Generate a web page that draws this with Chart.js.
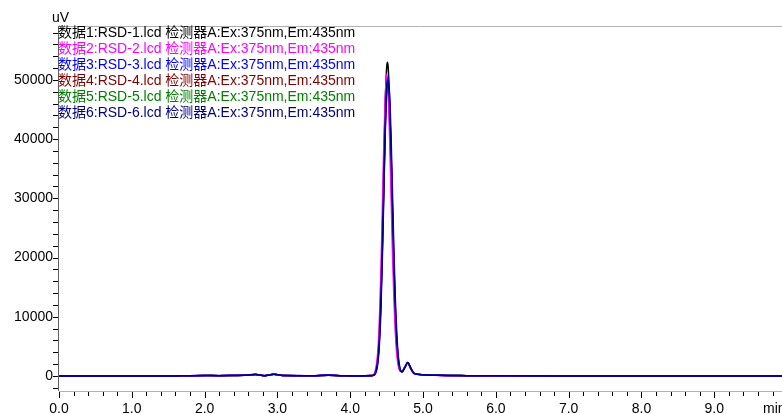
<!DOCTYPE html>
<html>
<head>
<meta charset="utf-8">
<script src="https://cdn.jsdelivr.net/npm/chart.js@4"></script>
<style>
html,body{margin:0;padding:0;background:#fff;}
#wrap{width:782px;height:414px;position:relative;}
</style>
</head>
<body>
<div id="wrap"><canvas id="c" width="782" height="414"></canvas></div>
<script>
// Retention times (min)
const times = [0, 0.5, 1.0, 1.5, 1.8, 2.0, 2.2, 2.4, 2.55, 2.7, 2.82, 2.95, 3.1, 3.3, 3.5, 3.7, 3.9, 4.1, 4.3, 4.34, 4.38, 4.40, 4.42, 4.44, 4.46, 4.48, 4.50, 4.51, 4.52, 4.54, 4.56, 4.58, 4.60, 4.62, 4.64, 4.66, 4.68, 4.71, 4.75, 4.79, 4.83, 4.87, 4.92, 5.0, 5.2, 5.6, 6.0, 7.0, 8.0, 9.0, 9.93];

// Signal (uV) for each run
const rsd1 = [0, 0, 0, 0, 50, 80, 60, 100, 120, 280, 60, 300, 80, 60, 50, 150, 30, 20, 80, 450, 3250, 7170, 13900, 23600, 35100, 45700, 52100, 53000, 52300, 46800, 37500, 26800, 17200, 9900, 5100, 2400, 1100, 700, 1500, 2300, 1300, 500, 300, 200, 120, 60, 30, 0, 0, 0, 0];
const rsd2 = [0, 0, 0, 0, 40, 70, 50, 90, 110, 250, 50, 270, 70, 50, 40, 130, 20, 10, 100, 700, 4300, 9300, 17000, 27400, 38500, 46800, 51000, 50200, 48500, 40700, 31000, 21000, 13000, 7200, 3600, 1700, 900, 750, 1600, 2200, 1200, 450, 280, 180, 100, 50, 20, 0, 0, 0, 0];
const rsd3 = [0, 0, 0, 0, 60, 90, 70, 110, 130, 270, 70, 290, 90, 70, 60, 160, 40, 20, 60, 250, 2200, 5200, 10700, 19300, 30000, 41000, 48200, 49800, 50300, 47500, 40800, 31000, 21000, 12800, 7000, 3400, 1500, 700, 1400, 2300, 1400, 550, 320, 210, 130, 60, 30, 0, 0, 0, 0];
const rsd4 = [0, 0, 0, 0, 50, 80, 60, 100, 120, 260, 60, 280, 80, 60, 50, 140, 30, 20, 75, 420, 3000, 6700, 13000, 22000, 32800, 42700, 48700, 49500, 48900, 43700, 35000, 25000, 16100, 9200, 4800, 2250, 1050, 700, 1450, 2250, 1300, 500, 300, 200, 120, 60, 30, 0, 0, 0, 0];
const rsd5 = [0, 0, 0, 0, 50, 80, 60, 100, 120, 260, 60, 280, 80, 60, 50, 140, 30, 20, 70, 380, 2700, 6100, 12000, 20600, 31000, 41000, 47600, 48700, 49000, 45400, 37800, 28000, 18600, 11000, 5900, 2800, 1250, 700, 1450, 2250, 1300, 500, 300, 200, 120, 60, 30, 0, 0, 0, 0];
const rsd6 = [0, 0, 0, 0, 50, 80, 60, 100, 120, 260, 60, 280, 80, 60, 50, 140, 30, 20, 70, 380, 2800, 6300, 12300, 21100, 31700, 41900, 48600, 49700, 50000, 46300, 38600, 28600, 19000, 11200, 6000, 2850, 1280, 700, 1450, 2300, 1350, 520, 310, 200, 120, 60, 30, 0, 0, 0, 0];

const seriesNames = [
  "数据1:RSD-1.lcd 检测器A:Ex:375nm,Em:435nm",
  "数据2:RSD-2.lcd 检测器A:Ex:375nm,Em:435nm",
  "数据3:RSD-3.lcd 检测器A:Ex:375nm,Em:435nm",
  "数据4:RSD-4.lcd 检测器A:Ex:375nm,Em:435nm",
  "数据5:RSD-5.lcd 检测器A:Ex:375nm,Em:435nm",
  "数据6:RSD-6.lcd 检测器A:Ex:375nm,Em:435nm"
];
const seriesValues = [rsd1, rsd2, rsd3, rsd4, rsd5, rsd6];
const seriesColors = ["#000000", "#ff00ff", "#0000ff", "#800000", "#008000", "#000080"];
// drawing weight: higher is drawn first (underneath)
const drawOrder = [6, 3, 2, 5, 4, 1];

const xMajorTicks = [0, 1, 2, 3, 4, 5, 6, 7, 8, 9];
const yMajorTicks = [0, 10000, 20000, 30000, 40000, 50000];
const yUnit = "uV";
const xUnit = "min";

const FONT = "Arial, 'Liberation Sans', 'Noto Sans CJK SC', sans-serif";

const datasets = seriesValues.map((vals, i) => ({
  label: seriesNames[i],
  data: times.map((t, j) => ({x: t, y: vals[j]})),
  borderColor: seriesColors[i],
  borderWidth: 1.5,
  pointRadius: 0,
  fill: false,
  order: drawOrder[i],
  cubicInterpolationMode: 'monotone'
}));

const decor = {
  id: 'decor',
  afterDraw(chart) {
    const ctx = chart.ctx;
    const xs = chart.scales.x, ys = chart.scales.y;
    const a = chart.chartArea;
    ctx.save();
    // top frame line
    ctx.strokeStyle = '#b0b0b0';
    ctx.lineWidth = 1;
    ctx.beginPath(); ctx.moveTo(a.left, a.top + 0.5); ctx.lineTo(a.right, a.top + 0.5); ctx.stroke();
    // x axis line
    ctx.beginPath(); ctx.moveTo(a.left, a.bottom + 0.5); ctx.lineTo(a.right, a.bottom + 0.5); ctx.stroke();
    // y axis line
    ctx.strokeStyle = '#606060';
    ctx.beginPath(); ctx.moveTo(a.left - 0.5, a.top); ctx.lineTo(a.left - 0.5, a.bottom); ctx.stroke();
    // ticks
    ctx.strokeStyle = '#000';
    ctx.beginPath();
    for (let v = 0; v <= xs.max + 1e-9; v += 0.2) {
      const px = Math.round(xs.getPixelForValue(v)) + 0.5;
      const major = Math.abs(v - Math.round(v)) < 1e-6;
      ctx.moveTo(px, a.bottom + 1); ctx.lineTo(px, a.bottom + (major ? 7 : 5));
    }
    for (let v = -2000; v <= ys.max; v += 2000) {
      const py = Math.round(ys.getPixelForValue(v)) + 0.5;
      ctx.moveTo(a.left - 6, py); ctx.lineTo(a.left - 1, py);
    }
    ctx.stroke();
    // tick labels
    ctx.fillStyle = '#000';
    ctx.font = '14px ' + FONT;
    ctx.textAlign = 'center'; ctx.textBaseline = 'alphabetic';
    xMajorTicks.forEach(v => ctx.fillText(v.toFixed(1), xs.getPixelForValue(v), 413));
    ctx.textAlign = 'right'; ctx.textBaseline = 'middle';
    yMajorTicks.forEach(v => ctx.fillText(String(v), a.left - 6, ys.getPixelForValue(v)));
    // units
    ctx.textAlign = 'left'; ctx.textBaseline = 'alphabetic';
    ctx.fillText(yUnit, 52, 22);
    ctx.fillText(xUnit, 763, 413);
    // legend
    ctx.textBaseline = 'middle';
    seriesNames.forEach((n, i) => {
      ctx.fillStyle = seriesColors[i];
      ctx.fillText(n, a.left - 1, a.top + 7 + i * 16);
    });
    ctx.restore();
  }
};

new Chart(document.getElementById('c'), {
  type: 'line',
  data: { datasets },
  options: {
    responsive: false,
    animation: false,
    layout: { padding: { top: 26, right: 0, left: 0, bottom: 0 } },
    plugins: { legend: { display: false }, tooltip: { enabled: false } },
    scales: {
      x: {
        type: 'linear', min: 0, max: 9.93,
        grid: { display: false, drawTicks: false },
        border: { display: false },
        ticks: { display: false },
        afterFit(s) { s.height = 23; }
      },
      y: {
        min: -2530, max: 59100,
        grid: { display: false, drawTicks: false },
        border: { display: false },
        ticks: { display: false },
        afterFit(s) { s.width = 59; }
      }
    }
  },
  plugins: [decor]
});
</script>
</body>
</html>
